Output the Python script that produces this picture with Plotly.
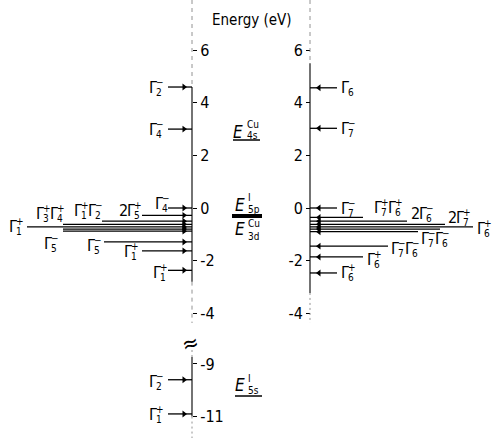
import re
import plotly.graph_objects as go

# ---------------- data (energies in eV, labels) ----------------
left_energy = [4.6, 3.0, 0.0, -0.28, -0.5, -0.62, -0.72, -0.8, -0.88, -1.29, -1.63, -2.37]
left_labels = ["Γ2-", "Γ4-", "Γ4-", "2Γ5+", "Γ1+Γ2-", "Γ3+Γ4+", "Γ1+", "", "Γ5-", "Γ5-", "Γ1+", "Γ1+"]
deep_energy = [-9.6, -10.9]
deep_labels = ["Γ2-", "Γ1+"]
right_energy = [4.57, 3.03, 0.0, -0.36, -0.5, -0.62, -0.72, -0.8, -0.9, -1.45, -1.86, -2.47]
right_labels = ["Γ6", "Γ7-", "Γ7-", "Γ7+Γ6+", "2Γ6-", "2Γ7+", "Γ6+", "", "Γ7-Γ6-", "Γ7-Γ6-", "Γ6+", "Γ6+"]
tick_values = [6, 4, 2, 0, -2, -4]
deep_tick_values = [-9, -11]

# ---------------- layout (pixels) ----------------
W, H = 493, 438
Y0, K = 208.0, 26.3          # pixel of 0 eV, pixels per eV
BREAK_SHIFT = 3.07           # energy shift applied below the axis break
AX_L, AX_R = 192, 310
left_start = [168, 168, 168, 142, 102, 63, 27, 63, 63, 104, 142, 168]
left_lab_x = [148, 148, 154, 118, 73, 35, 8, None, 43, 86, 123, 152]
left_lab_dy = [0, 0, 5, 5, 11, 11, 0, 0, -12, -4, -1, -2]
deep_start = [168, 168]
deep_lab_x = [148, 148]
deep_lab_dy = [-2, -1]
right_end = [337, 337, 337, 363, 407, 445, 473, 440, 418, 388, 363, 337]
right_lab_x = [340, 340, 340, 373, 410, 447, 476, None, 420, 390, 366, 340]
right_lab_dy = [0, 0, 0, 10, 8, 7, -2, 0, -7, -2, -3, 0]

FONT = "Liberation Sans Narrow, DejaVu Sans Condensed, Liberation Sans, Arial"
BIG = dict(family=FONT, size=16, color="black")
SMALL = dict(family=FONT, size=10, color="black")


def py2y(py):
    return (Y0 - py) / K


Y_TOP, Y_BOT = py2y(0), py2y(H)

fig = go.Figure()
ann = []
shapes = []


def add_gamma(x, yv, dy, text):
    tokens = re.findall(r"(\d?)Γ(\d)([+-]?)", text)
    cx = x
    for coef, sub, sign in tokens:
        if coef:
            ann.append(dict(x=cx, y=yv, yshift=dy, text=coef, font=BIG))
            cx += 8
        ann.append(dict(x=cx, y=yv, yshift=dy, text="Γ", font=BIG))
        cx += 7
        ann.append(dict(x=cx, y=yv, yshift=dy - 5, text=sub, font=SMALL))
        if sign:
            ann.append(dict(x=cx, y=yv, yshift=dy + 5,
                            text="−" if sign == "-" else "+", font=SMALL))
        cx += 7


def levels(energies, x_from, x_to, arrow_x, symbol):
    xs, ys = [], []
    for e, a, b in zip(energies, x_from, x_to):
        xs += [a, b, None]
        ys += [e, e, None]
    fig.add_trace(go.Scatter(x=xs, y=ys, mode="lines",
                             line=dict(color="black", width=1.3),
                             hoverinfo="skip", showlegend=False))
    fig.add_trace(go.Scatter(x=[arrow_x] * len(energies), y=energies, mode="markers",
                             marker=dict(symbol=symbol, size=6, color="black"),
                             hoverinfo="skip", showlegend=False))


# left side levels
levels(left_energy, left_start, [AX_L] * len(left_energy), AX_L - 8, "triangle-right")
deep_disp = [e + BREAK_SHIFT for e in deep_energy]
levels(deep_disp, deep_start, [AX_L] * len(deep_disp), AX_L - 8, "triangle-right")
# right side levels
levels(right_energy, [AX_R] * len(right_energy), right_end, AX_R + 9, "triangle-left")

for e, lx, dy, t in zip(left_energy, left_lab_x, left_lab_dy, left_labels):
    if t:
        add_gamma(lx, e, dy, t)
for e, lx, dy, t in zip(deep_disp, deep_lab_x, deep_lab_dy, deep_labels):
    add_gamma(lx, e, dy, t)
for e, lx, dy, t in zip(right_energy, right_lab_x, right_lab_dy, right_labels):
    if t:
        add_gamma(lx, e, dy, t)


# axis lines
def seg(x, y1, y2, dash, width=1.0, color="black"):
    shapes.append(dict(type="line", xref="x", yref="y", x0=x, x1=x, y0=y1, y1=y2,
                       line=dict(color=color, width=width, dash=dash)))


DASH = "4px,4px"
DOT = "2px,3px"
seg(AX_L, Y_TOP, left_energy[0], DASH, 0.8, "#777")
seg(AX_L, left_energy[0], -2.8, "solid", 1.1)
seg(AX_L, -2.8, py2y(323), DASH, 0.8, "#777")
seg(AX_L, py2y(350), py2y(357), DOT, 0.8, "#777")
seg(AX_L, py2y(357), deep_tick_values[1] + BREAK_SHIFT, "solid", 1.1)
seg(AX_L, deep_tick_values[1] + BREAK_SHIFT, Y_BOT, DOT, 0.8, "#777")
seg(AX_R, Y_TOP, 5.5, DASH, 0.8, "#777")
seg(AX_R, 5.5, -3.23, "solid", 1.1)
seg(AX_R, -3.23, py2y(323), DOT, 0.8, "#777")

# break symbol
ann.append(dict(x=AX_L - 2, y=py2y(343), text="≈", xanchor="center",
                font=dict(family=FONT, size=22, color="black"), textangle=-15))

# centre labels
def elabel(xe, pe, sup, sub, xs, psup, psub):
    ann.append(dict(x=xe, y=py2y(pe), text="<i>E</i>", font=dict(family=FONT, size=17, color="black")))
    ann.append(dict(x=xs, y=py2y(psup), text=sup, font=SMALL))
    ann.append(dict(x=xs, y=py2y(psub), text=sub, font=SMALL))


elabel(232, 132, "Cu", "4s", 246, 124, 135)
shapes.append(dict(type="line", xref="x", yref="y", x0=233, x1=260, y0=py2y(140), y1=py2y(140),
                   line=dict(color="black", width=1.5)))
elabel(234, 205, "I", "5p", 247, 197, 209)
shapes.append(dict(type="line", xref="x", yref="y", x0=232, x1=262, y0=py2y(216), y1=py2y(216),
                   line=dict(color="black", width=4)))
elabel(234, 229, "Cu", "3d", 247, 223, 236)
elabel(234, 385, "I", "5s", 247, 378, 390)
shapes.append(dict(type="line", xref="x", yref="y", x0=235, x1=262, y0=py2y(396), y1=py2y(396),
                   line=dict(color="black", width=1.5)))

ann.append(dict(x=252, y=py2y(20), text="Energy (eV)", xanchor="center",
                font=dict(family=FONT, size=15, color="black")))

for a in ann:
    a.setdefault("xanchor", "left")
    a.setdefault("yanchor", "middle")
    a["showarrow"] = False
    a["xref"] = "x"
    a["yref"] = "y"
    a["borderpad"] = 0

# invisible trace for second y axis
fig.add_trace(go.Scatter(x=[0], y=[0], yaxis="y2", mode="markers",
                         marker=dict(opacity=0), hoverinfo="skip", showlegend=False))

left_tickvals = tick_values + [v + BREAK_SHIFT for v in deep_tick_values]
left_ticktext = [str(v) for v in tick_values + deep_tick_values]

fig.update_layout(
    width=W, height=H, margin=dict(l=0, r=0, t=0, b=0),
    paper_bgcolor="white", plot_bgcolor="white",
    showlegend=False,
    xaxis=dict(range=[0, W], visible=False, fixedrange=True, anchor="y"),
    yaxis=dict(range=[Y_BOT, Y_TOP], anchor="free", position=AX_L / W, side="right",
               showline=False, showgrid=False, zeroline=False,
               ticks="outside", ticklen=4, tickcolor="black", tickwidth=1,
               tickvals=left_tickvals, ticktext=left_ticktext,
               tickfont=dict(family=FONT, size=16, color="black")),
    yaxis2=dict(range=[Y_BOT, Y_TOP], anchor="free", position=AX_R / W, side="left",
                overlaying="y", showline=False, showgrid=False, zeroline=False,
                ticks="outside", ticklen=4, tickcolor="black", tickwidth=1,
                tickvals=tick_values, ticktext=[str(v) for v in tick_values],
                tickfont=dict(family=FONT, size=16, color="black")),
    annotations=ann, shapes=shapes,
)

fig.write_html("out.html", config={"displayModeBar": False},
               post_script="document.body.style.margin='0';document.body.style.padding='0';")
